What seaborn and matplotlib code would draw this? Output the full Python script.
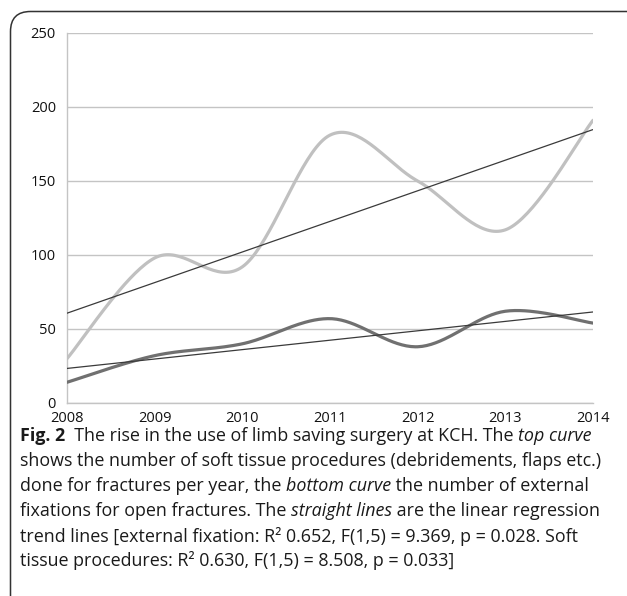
import numpy as np
import pandas as pd
import matplotlib
matplotlib.use("Agg")
import matplotlib.pyplot as plt
from matplotlib.patches import FancyBboxPatch
import seaborn as sns

# ---- data ----
years = [2008, 2009, 2010, 2011, 2012, 2013, 2014]
soft_tissue = [30, 98, 92, 181, 150, 117, 191]
external_fixation = [14, 32, 40, 57, 38, 62, 54]
y_ticks = [0, 50, 100, 150, 200, 250]

caption_lines = [
    [("Fig. 2", "bold"), ("  The rise in the use of limb saving surgery at KCH. The ", "normal"),
     ("top curve", "italic")],
    [("shows the number of soft tissue procedures (debridements, flaps etc.)", "normal")],
    [("done for fractures per year, the ", "normal"), ("bottom curve", "italic"),
     (" the number of external", "normal")],
    [("fixations for open fractures. The ", "normal"), ("straight lines", "italic"),
     (" are the linear regression", "normal")],
    [("trend lines [external fixation: R² 0.652, F(1,5) = 9.369, p = 0.028. Soft", "normal")],
    [("tissue procedures: R² 0.630, F(1,5) = 8.508, p = 0.033]", "normal")],
]


def smooth_curve(x, y, n=40):
    """Excel-style smoothed line (Catmull-Rom Bezier through the points)."""
    x = np.asarray(x, float)
    y = np.asarray(y, float)
    P = np.column_stack([x, y])
    Pe = np.vstack([P[0], P, P[-1]])
    out = []
    t = np.linspace(0, 1, n)[:, None]
    for i in range(len(P) - 1):
        p0, p1, p2, p3 = Pe[i], Pe[i + 1], Pe[i + 2], Pe[i + 3]
        c1 = p1 + (p2 - p0) / 6.0
        c2 = p2 - (p3 - p1) / 6.0
        seg = ((1 - t) ** 3) * p1 + 3 * ((1 - t) ** 2) * t * c1 + 3 * (1 - t) * t ** 2 * c2 + t ** 3 * p2
        out.append(seg if i == 0 else seg[1:])
    s = np.vstack(out)
    return s[:, 0], s[:, 1]


sns.set_style("white")
plt.rcParams["font.family"] = ["Open Sans", "DejaVu Sans"]

W, H = 627, 596
fig = plt.figure(figsize=(W / 100, H / 100), dpi=100)
ax = fig.add_axes([67 / W, 1 - 403 / H, (593 - 67) / W, (403 - 33) / H])

df = pd.DataFrame({"year": years, "soft": soft_tissue, "ext": external_fixation})

# smoothed curves
sx, sy = smooth_curve(df["year"], df["soft"])
sns.lineplot(x=sx, y=sy, ax=ax, color="#c0c0c0", linewidth=2.3, sort=False, zorder=3)
ex, ey = smooth_curve(df["year"], df["ext"])
sns.lineplot(x=ex, y=ey, ax=ax, color="#707070", linewidth=2.3, sort=False, zorder=3)

# linear trend lines
sns.regplot(data=df, x="year", y="soft", ax=ax, scatter=False, ci=None, truncate=True,
            line_kws={"color": "#3a3a3a", "linewidth": 0.9, "zorder": 4})
sns.regplot(data=df, x="year", y="ext", ax=ax, scatter=False, ci=None, truncate=True,
            line_kws={"color": "#3a3a3a", "linewidth": 0.9, "zorder": 4})

ax.set_xlim(2008, 2014)
ax.set_ylim(0, 250)
ax.set_xticks(years)
ax.set_xticklabels([str(y) for y in years])
ax.set_yticks(y_ticks)
ax.set_yticklabels([str(v) for v in y_ticks])
ax.set_xlabel("")
ax.set_ylabel("")
ax.grid(axis="y", color="#c4c4c4", linewidth=1.0)
ax.set_axisbelow(True)
for s in ["top", "right"]:
    ax.spines[s].set_visible(False)
for s in ["left", "bottom"]:
    ax.spines[s].set_color("#c4c4c4")
    ax.spines[s].set_linewidth(1.0)
ax.tick_params(axis="both", which="both", length=4, width=1.0, color="#c4c4c4",
               labelsize=10.5, labelcolor="#111111", direction="out")
ax.tick_params(axis="x", pad=1.5)
ax.tick_params(axis="y", pad=4)

# rounded frame (top and left edges visible)
frame = FancyBboxPatch((10.5, -40), 700, H - 11.5 + 40,
                       boxstyle="round,pad=0,rounding_size=20",
                       transform=None, fill=False, edgecolor="#333333",
                       linewidth=1.1, clip_on=False)
fig.patches.append(frame)

# caption with mixed styles
fig.canvas.draw()
renderer = fig.canvas.get_renderer()
x0 = 20
y_first = H - 436
line_h = 25.0
fs = 12.9
for i, runs in enumerate(caption_lines):
    xpos = x0
    ypos = y_first - i * line_h
    for txt, style in runs:
        kw = dict(fontsize=fs, color="#1a1a1a", va="center", ha="left", transform=None)
        if style == "bold":
            kw["fontweight"] = "bold"
        elif style == "italic":
            kw["fontstyle"] = "italic"
        t = fig.text(xpos, ypos, txt, **kw)
        bb = t.get_window_extent(renderer=renderer)
        xpos = bb.x1

fig.savefig("out.png", dpi=100)
